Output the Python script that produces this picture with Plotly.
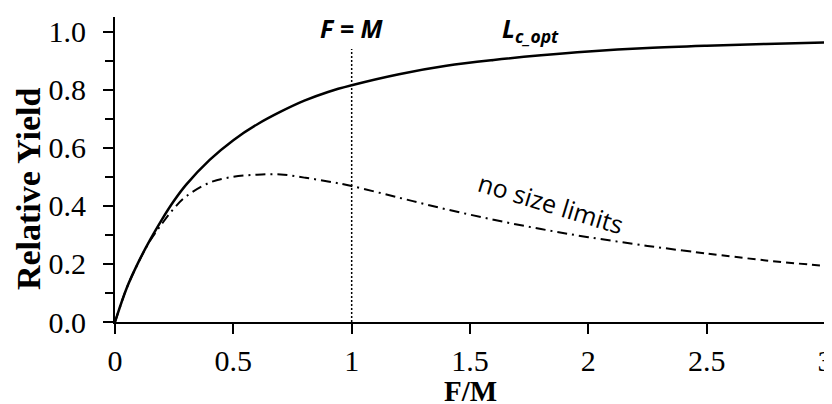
import plotly.graph_objects as go

# F/M ratio sample points
fm = [0, 0.05, 0.1, 0.15, 0.2, 0.25, 0.3, 0.4, 0.5, 0.6, 0.7, 0.8, 0.9, 1.0,
      1.2, 1.4, 1.6, 1.8, 2.0, 2.25, 2.4]
fm_tail = [2.4, 2.5, 2.75, 3.0]
fm_opt = [0, 0.05, 0.1, 0.15, 0.2, 0.25, 0.3, 0.4, 0.5, 0.6, 0.7, 0.8, 0.9, 1.0,
          1.2, 1.4, 1.6, 1.8, 2.0, 2.25, 2.5, 2.75, 3.0]

# Relative yield with optimal length at first capture (Lc_opt)
yield_lc_opt = [0, 0.118, 0.208, 0.285, 0.355, 0.418, 0.472, 0.558, 0.626, 0.680,
                0.724, 0.762, 0.792, 0.815, 0.853, 0.882, 0.902, 0.918, 0.931,
                0.943, 0.951, 0.957, 0.962]

# Relative yield with no size limits (dash-dot part and dashed tail)
yield_no_limit = [0, 0.118, 0.207, 0.282, 0.340, 0.392, 0.432, 0.480, 0.500, 0.507,
                  0.508, 0.497, 0.484, 0.468, 0.428, 0.388, 0.352, 0.320, 0.292,
                  0.262, 0.246]
yield_no_limit_tail = [0.246, 0.236, 0.212, 0.193]

# Reference line F = M
fm_ref_x = [1, 1]
fm_ref_y = [0, 0.94]

x_ticks = [0, 0.5, 1, 1.5, 2, 2.5, 3]
y_ticks = [0, 0.2, 0.4, 0.6, 0.8, 1.0]
y_minor = [0.1, 0.3, 0.5, 0.7, 0.9]

fig = go.Figure()
fig.add_trace(go.Scatter(x=fm_ref_x, y=fm_ref_y, mode="lines",
                         line=dict(color="black", width=1.5, dash="2px,2px")))
fig.add_trace(go.Scatter(x=fm, y=yield_no_limit, mode="lines",
                         line=dict(color="black", width=2, dash="10px,5px,2px,5px", shape="spline")))
fig.add_trace(go.Scatter(x=fm_tail, y=yield_no_limit_tail, mode="lines",
                         line=dict(color="black", width=2, dash="8px,5px", shape="spline")))
fig.add_trace(go.Scatter(x=fm_opt, y=yield_lc_opt, mode="lines",
                         line=dict(color="black", width=2.5, shape="spline")))

serif = "Liberation Serif, Times New Roman, serif"
sans = "Open Sans, Carlito, Calibri, sans-serif"

# The page body has a default 8px margin, so the figure is sized to fit the window.
fig.update_layout(
    width=824, height=396,
    margin=dict(l=107, r=7, t=9, b=82),
    paper_bgcolor="white", plot_bgcolor="white",
    showlegend=False,
    font=dict(family=serif, color="black"),
    xaxis=dict(range=[0, 3], tickvals=x_ticks, ticktext=[f"{v:g}" for v in x_ticks],
               automargin=False, ticklabeloverflow="allow",
               showgrid=False, zeroline=False, showline=True, linecolor="black", linewidth=2,
               ticks="outside", ticklen=10, tickwidth=2, tickcolor="black",
               tickfont=dict(family=serif, size=30, color="black"), ticklabelstandoff=1),
    yaxis=dict(range=[0, 1.05], tickvals=y_ticks, ticktext=[f"{v:.1f}" for v in y_ticks],
               automargin=False, ticklabeloverflow="allow",
               showgrid=False, zeroline=False, showline=True, linecolor="black", linewidth=2,
               ticks="outside", ticklen=10, tickwidth=2, tickcolor="black",
               minor=dict(tickvals=y_minor, ticks="outside", ticklen=8,
                          tickwidth=2, tickcolor="black", showgrid=False),
               tickfont=dict(family=serif, size=30, color="black"), ticklabelstandoff=11),
    annotations=[
        dict(text="<b>Relative Yield</b>", xref="paper", yref="paper", x=-0.1225, y=0.436,
             textangle=-90, showarrow=False, xanchor="center", yanchor="middle",
             font=dict(family=serif, size=34, color="black")),
        dict(text="<b>F/M</b>", xref="paper", yref="paper", x=0.5, y=-0.225,
             showarrow=False, xanchor="center", yanchor="middle",
             font=dict(family=serif, size=29, color="black")),
        dict(text="<b><i>F = M</i></b>", x=1.0, y=1.012, xref="x", yref="y",
             showarrow=False, xanchor="center", yanchor="middle",
             font=dict(family=sans, size=25, color="black")),
        dict(text="<b><i>L<sub>c_opt</sub></i></b>", x=1.627, y=1.008, xref="x", yref="y",
             showarrow=False, xanchor="left", yanchor="middle",
             font=dict(family=sans, size=25, color="black")),
        dict(text="no size limits", x=1.842, y=0.411, xref="x", yref="y",
             showarrow=False, xanchor="center", yanchor="middle", textangle=17,
             font=dict(family=sans, size=25, color="black")),
    ],
)

fig.write_html("out.html")
